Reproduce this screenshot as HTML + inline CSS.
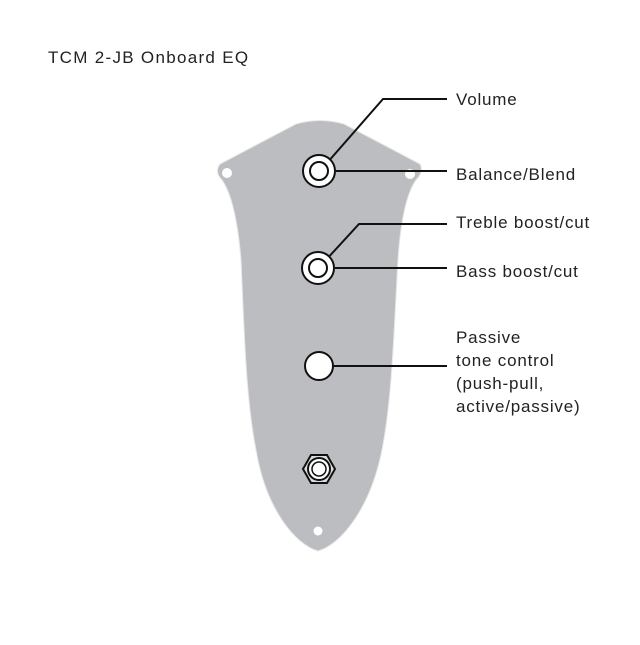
<!DOCTYPE html>
<html><head><style>
body{margin:0;background:#fff}
svg text{font-family:"Liberation Sans",sans-serif;font-size:17px;letter-spacing:0.8px;fill:#222}
</style></head><body>
<svg width="640" height="640" viewBox="0 0 640 640" xmlns="http://www.w3.org/2000/svg">
<text x="48" y="63" style="letter-spacing:1.3px">TCM 2-JB Onboard EQ</text>
<path d="M296,124 Q320,117 344,124 L420,164 Q424,172 416,180 Q402,200 398,260 C394,330 392,400 382,450 C370,510 340,545 318,551 C296,545 266,510 256,450 C246,400 244,330 241,260 Q236,200 222,180 Q214,172 220,164 Z" fill="#bcbdc0" stroke="#e8e8e8" stroke-width="1"/>
<circle cx="227" cy="173" r="5" fill="#fff"/>
<circle cx="410" cy="174" r="5" fill="#fff"/>
<circle cx="318" cy="531" r="4.5" fill="#fff"/>
<g stroke="#111" stroke-width="2" fill="none">
<polyline points="327,163 383,99 447,99"/>
<line x1="336" y1="171" x2="447" y2="171"/>
<polyline points="325,261 359,224 447,224"/>
<line x1="335" y1="268" x2="447" y2="268"/>
<line x1="333" y1="366" x2="447" y2="366"/>
</g>
<g stroke="#111" stroke-width="2" fill="#fff">
<circle cx="319" cy="171" r="16"/>
<circle cx="319" cy="171" r="9"/>
<circle cx="318" cy="268" r="16"/>
<circle cx="318" cy="268" r="9"/>
<circle cx="319" cy="366" r="14"/>
</g>
<polygon points="303,469 311,455 327,455 335,469 327,483 311,483" fill="#ddd" stroke="#111" stroke-width="2"/>
<circle cx="319" cy="469" r="11" fill="#fff" stroke="#111" stroke-width="2"/>
<circle cx="319" cy="469" r="7" fill="#fff" stroke="#111" stroke-width="1.5"/>
<text x="456" y="105">Volume</text>
<text x="456" y="180">Balance/Blend</text>
<text x="456" y="228">Treble boost/cut</text>
<text x="456" y="277">Bass boost/cut</text>
<text x="456" y="343">Passive</text>
<text x="456" y="366">tone control</text>
<text x="456" y="389">(push-pull,</text>
<text x="456" y="412">active/passive)</text>
</svg>
</body></html>
